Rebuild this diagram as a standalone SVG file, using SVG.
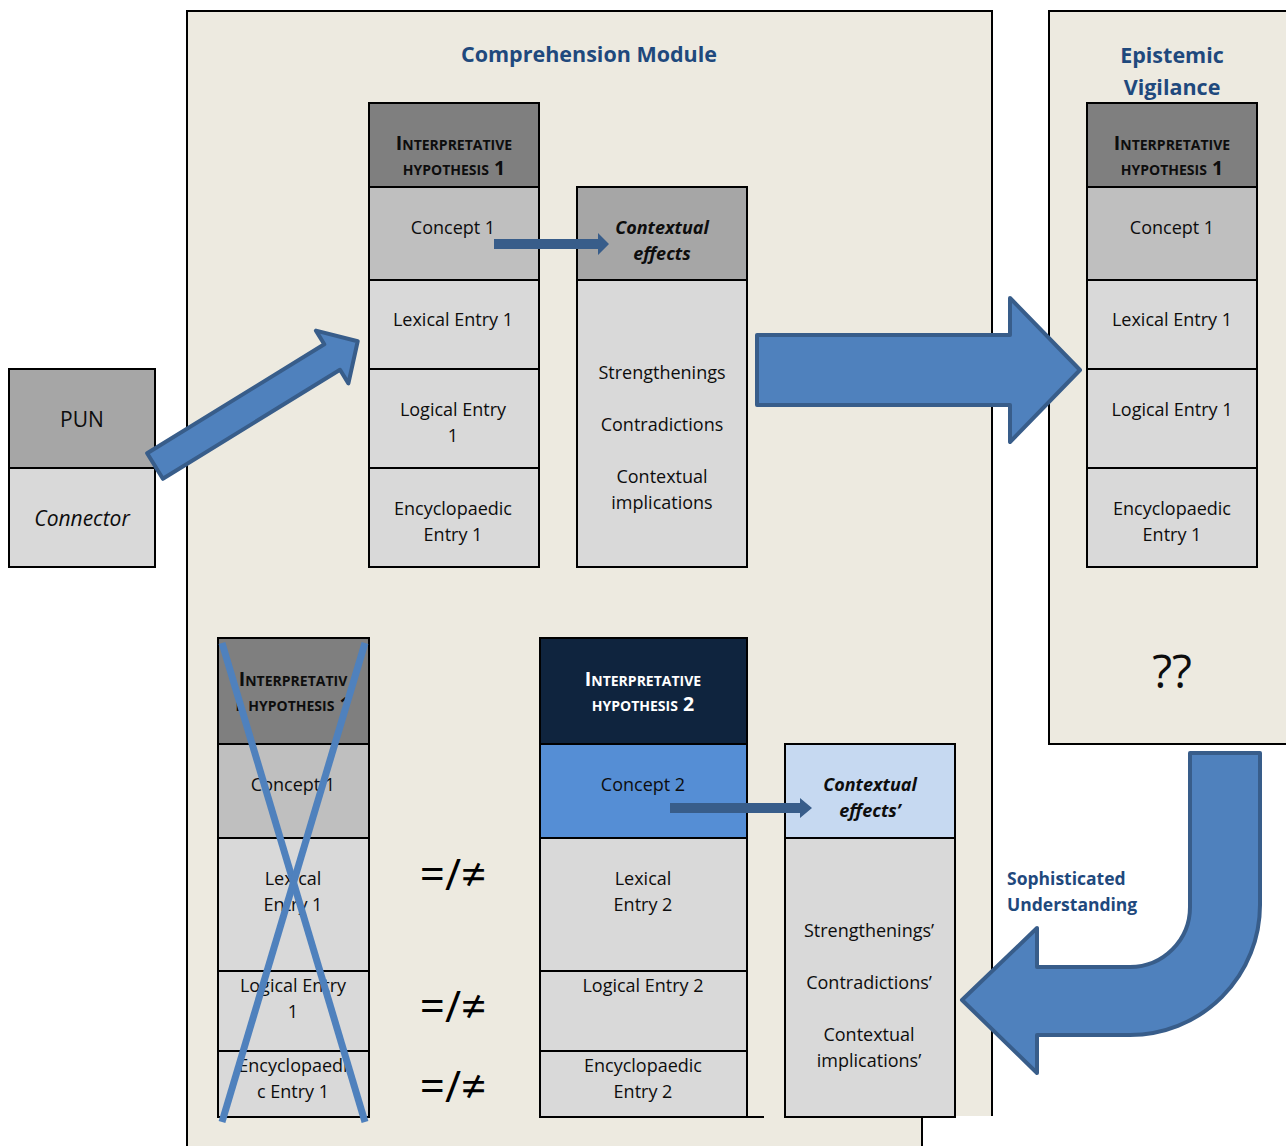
<svg xmlns="http://www.w3.org/2000/svg" width="1286" height="1146" viewBox="0 0 1286 1146">
<defs>
<style>
.bx{stroke:#000;stroke-width:2}
.g1{fill:#7F7F7F}.g2{fill:#BFBFBF}.g3{fill:#D9D9D9}.g4{fill:#A6A6A6}
.t{font-family:"Open Sans","Liberation Sans",sans-serif;font-size:18px;fill:#0D0D0D;text-anchor:middle}
.hd{font-weight:bold;font-variant:small-caps;font-size:19.5px}
.ce{font-weight:bold;font-style:italic}
.ti{font-family:"Open Sans","Liberation Sans",sans-serif;font-weight:bold;font-size:21.5px;fill:#1F497D;text-anchor:middle}
.ar{fill:#4F81BD;stroke:#385D8A;stroke-width:4;stroke-linejoin:round}
.sa{fill:#385D8A}
.x{stroke:#4F81BD;stroke-width:7}
.neq{font-family:"Open Sans","DejaVu Sans",sans-serif;font-size:44px;fill:#000;text-anchor:middle}
.su{font-family:"Open Sans","Liberation Sans",sans-serif;font-weight:bold;font-size:17.5px;fill:#1F497D}
</style>
</defs>
<rect width="1286" height="1146" fill="#fff"/>

<g id="comprehension-module">
<polygon points="187,11 992,11 992,1116 922,1116 922,1146 187,1146" fill="#EDEAE0"/>
<polyline points="187,1146 187,11 992,11 992,1116" fill="none" stroke="#000" stroke-width="2"/>
<line x1="922" y1="1116" x2="922" y2="1146" stroke="#000" stroke-width="2"/>
<text class="ti" x="589" y="62">Comprehension Module</text>
</g>

<g id="epistemic-vigilance">
<rect x="1049" y="11" width="250" height="733" fill="#EDEAE0" stroke="#000" stroke-width="2"/>
<text class="ti" x="1172" y="63">Epistemic</text>
<text class="ti" x="1172" y="95">Vigilance</text>
<rect class="bx g1" x="1087" y="103" width="170" height="84"/>
<rect class="bx g2" x="1087" y="187" width="170" height="93"/>
<rect class="bx g3" x="1087" y="280" width="170" height="89"/>
<rect class="bx g3" x="1087" y="369" width="170" height="99"/>
<rect class="bx g3" x="1087" y="468" width="170" height="99"/>
<text class="t hd" x="1172" y="150">Interpretative</text>
<text class="t hd" x="1172" y="175">hypothesis 1</text>
<text class="t" x="1172" y="234">Concept 1</text>
<text class="t" x="1172" y="326">Lexical Entry 1</text>
<text class="t" x="1172" y="416">Logical Entry 1</text>
<text class="t" x="1172" y="515">Encyclopaedic</text>
<text class="t" x="1172" y="541">Entry 1</text>
<text class="t" x="1172" y="688" style="font-size:46px">??</text>
</g>

<g id="pun">
<rect class="bx g4" x="9" y="369" width="146" height="99"/>
<rect class="bx g3" x="9" y="468" width="146" height="99"/>
<text class="t" x="82" y="427" style="font-size:21px">PUN</text>
<text class="t" x="82" y="526" style="font-size:21px;font-style:italic">Connector</text>
</g>

<g id="ih1">
<rect class="bx g1" x="369" y="103" width="170" height="84"/>
<rect class="bx g2" x="369" y="187" width="170" height="93"/>
<rect class="bx g3" x="369" y="280" width="170" height="89"/>
<rect class="bx g3" x="369" y="369" width="170" height="99"/>
<rect class="bx g3" x="369" y="468" width="170" height="99"/>
<text class="t hd" x="454" y="150">Interpretative</text>
<text class="t hd" x="454" y="175">hypothesis 1</text>
<text class="t" x="453" y="234">Concept 1</text>
<text class="t" x="453" y="326">Lexical Entry 1</text>
<text class="t" x="453" y="416">Logical Entry</text>
<text class="t" x="453" y="442">1</text>
<text class="t" x="453" y="515">Encyclopaedic</text>
<text class="t" x="453" y="541">Entry 1</text>
</g>

<g id="contextual-effects">
<rect class="bx g4" x="577" y="187" width="170" height="93"/>
<rect class="bx g3" x="577" y="280" width="170" height="287"/>
<text class="t ce" x="662" y="234">Contextual</text>
<text class="t ce" x="662" y="260">effects</text>
<text class="t" x="662" y="379">Strengthenings</text>
<text class="t" x="662" y="431">Contradictions</text>
<text class="t" x="662" y="483">Contextual</text>
<text class="t" x="662" y="509">implications</text>
</g>

<g id="ih1-rejected">
<rect class="bx g1" x="218" y="638" width="151" height="106"/>
<rect class="bx g2" x="218" y="744" width="151" height="94"/>
<rect class="bx g3" x="218" y="838" width="151" height="133"/>
<rect class="bx g3" x="218" y="971" width="151" height="80"/>
<rect class="bx g3" x="218" y="1051" width="151" height="66"/>
<text class="t hd" x="293" y="686">Interpretativ</text>
<text class="t hd" x="293" y="711">e hypothesis 1</text>
<text class="t" x="293" y="791">Concept 1</text>
<text class="t" x="293" y="885">Lexical</text>
<text class="t" x="293" y="911">Entry 1</text>
<text class="t" x="293" y="992">Logical Entry</text>
<text class="t" x="293" y="1018">1</text>
<text class="t" x="293" y="1072">Encyclopaedi</text>
<text class="t" x="293" y="1098">c Entry 1</text>
<line class="x" x1="222" y1="643" x2="365" y2="1122"/>
<line class="x" x1="365" y1="643" x2="222" y2="1122"/>
</g>

<g id="ih2">
<rect class="bx" x="540" y="638" width="207" height="106" fill="#0F243E"/>
<rect class="bx" x="540" y="744" width="207" height="94" fill="#558ED5"/>
<rect class="bx g3" x="540" y="838" width="207" height="133"/>
<rect class="bx g3" x="540" y="971" width="207" height="80"/>
<rect class="bx g3" x="540" y="1051" width="207" height="66"/>
<line x1="747" y1="1117" x2="764" y2="1117" stroke="#000" stroke-width="2"/>
<text class="t hd" x="643" y="686" style="fill:#fff">Interpretative</text>
<text class="t hd" x="643" y="711" style="fill:#fff">hypothesis 2</text>
<text class="t" x="643" y="791">Concept 2</text>
<text class="t" x="643" y="885">Lexical</text>
<text class="t" x="643" y="911">Entry 2</text>
<text class="t" x="643" y="992">Logical Entry 2</text>
<text class="t" x="643" y="1072">Encyclopaedic</text>
<text class="t" x="643" y="1098">Entry 2</text>
</g>

<g id="contextual-effects-2">
<rect class="bx" x="785" y="744" width="170" height="94" fill="#C6D9F1"/>
<rect class="bx g3" x="785" y="838" width="170" height="279"/>
<text class="t ce" x="870" y="791">Contextual</text>
<text class="t ce" x="870" y="817">effects’</text>
<text class="t" x="869" y="937">Strengthenings’</text>
<text class="t" x="869" y="989">Contradictions’</text>
<text class="t" x="869" y="1041">Contextual</text>
<text class="t" x="869" y="1067">implications’</text>
</g>

<g id="comparisons">
<text class="neq" x="453" y="890">=/≠</text>
<text class="neq" x="453" y="1022">=/≠</text>
<text class="neq" x="453" y="1102">=/≠</text>
</g>

<g id="connectors">
<polygon class="ar" transform="translate(155,466) rotate(-31.6)" points="0,-15 208,-15 208,-31 238,0 208,31 208,15 0,15"/>
<polygon class="ar" points="757,335 1010,335 1010,298 1080,370 1010,442 1010,405 757,405"/>
<path class="ar" d="M1190,753 L1260,753 L1260,905 A130,130 0 0 1 1130,1035 L1037,1035 L1037,1073 L962,1000 L1037,928 L1037,967 L1130,967 A60,60 0 0 0 1190,907 Z"/>
<polygon class="sa" points="494,239 598,239 598,233 609,244 598,255 598,249 494,249"/>
<polygon class="sa" points="670,803 800,803 800,798 812,808 800,818 800,813 670,813"/>
<text class="su" x="1007" y="885">Sophisticated</text>
<text class="su" x="1007" y="911">Understanding</text>
</g>
</svg>
